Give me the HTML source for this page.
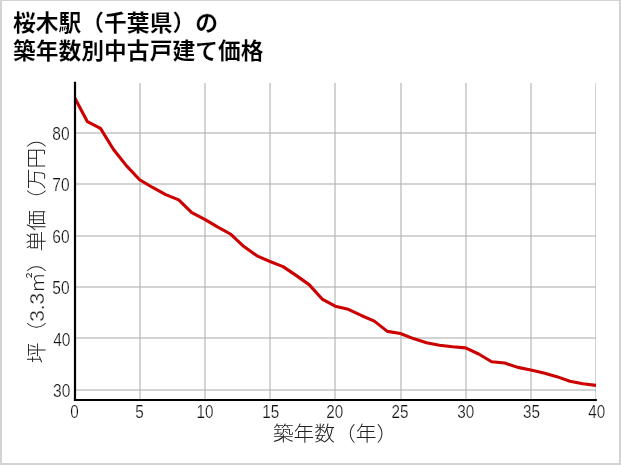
<!DOCTYPE html>
<html lang="ja"><head><meta charset="utf-8"><title>桜木駅（千葉県）の築年数別中古戸建て価格</title>
<style>
html,body{margin:0;padding:0;background:#fff;}
body{width:621px;height:465px;overflow:hidden;position:relative;}
svg{position:absolute;left:0;top:0;display:block;}
text{font-family:"Liberation Sans","Noto Sans CJK JP",sans-serif;}
.title{font-weight:700;font-size:22.8px;fill:#000;stroke:#fff;stroke-width:0.16px;}
.tick{font-weight:400;font-size:16.9px;fill:#111;stroke:#fff;stroke-width:0.22px;}
.num{stroke:#fff;stroke-width:0.3px;}
.lab{font-weight:300;font-size:20.75px;fill:#222;}
</style></head><body>
<svg width="621" height="465" viewBox="0 0 621 465">
<defs><clipPath id="plot"><rect x="75" y="83" width="521" height="317"/></clipPath></defs>
<rect x="0" y="0" width="621" height="465" fill="#d3d3d3"/>
<rect x="2" y="1" width="617" height="462" fill="#ffffff"/>

<g stroke="#b0b0b0" stroke-opacity="0.56" stroke-width="2" fill="none" clip-path="url(#plot)">
<line x1="140" y1="83.0" x2="140" y2="400.0"/>
<line x1="205" y1="83.0" x2="205" y2="400.0"/>
<line x1="270" y1="83.0" x2="270" y2="400.0"/>
<line x1="335" y1="83.0" x2="335" y2="400.0"/>
<line x1="401" y1="83.0" x2="401" y2="400.0"/>
<line x1="466" y1="83.0" x2="466" y2="400.0"/>
<line x1="531" y1="83.0" x2="531" y2="400.0"/>
<line x1="596" y1="83.0" x2="596" y2="400.0"/>
<line x1="75.0" y1="390" x2="596.0" y2="390"/>
<line x1="75.0" y1="338" x2="596.0" y2="338"/>
<line x1="75.0" y1="287" x2="596.0" y2="287"/>
<line x1="75.0" y1="236" x2="596.0" y2="236"/>
<line x1="75.0" y1="184" x2="596.0" y2="184"/>
<line x1="75.0" y1="133" x2="596.0" y2="133"/>
</g>
<polyline points="74.40,97.28 87.44,121.69 100.48,128.37 113.52,149.45 126.56,165.90 139.60,179.77 152.64,187.48 165.68,194.68 178.72,199.82 191.76,212.67 204.80,219.35 217.84,227.06 230.88,234.26 243.92,246.59 256.96,255.85 270.00,261.50 283.04,266.64 296.08,275.38 309.12,284.63 322.16,299.02 335.20,306.22 348.24,309.30 361.28,315.47 374.32,321.12 387.36,331.40 400.40,333.46 413.44,338.60 426.48,342.71 439.52,345.28 452.56,346.82 465.60,347.85 478.64,354.02 491.68,361.73 504.72,363.01 517.76,367.38 530.80,369.95 543.84,373.04 556.88,376.64 569.92,381.26 582.96,383.83 596.00,385.37" fill="none" stroke="#cc0000" stroke-width="3.1" stroke-linejoin="round" stroke-linecap="butt" clip-path="url(#plot)"/>
<line x1="75" y1="81.7" x2="75" y2="400.9" stroke="#000" stroke-width="2.2"/>
<line x1="73.9" y1="399.9" x2="596.9" y2="399.9" stroke="#000" stroke-width="2"/>
<text class="tick" transform="translate(74.50,417.9) scale(0.905,1.08)" text-anchor="middle">0</text>
<text class="tick" transform="translate(139.43,417.9) scale(0.905,1.08)" text-anchor="middle">5</text>
<text class="tick" transform="translate(205.05,417.9) scale(0.905,1.08)" text-anchor="middle">10</text>
<text class="tick" transform="translate(270.68,417.9) scale(0.905,1.08)" text-anchor="middle">15</text>
<text class="tick" transform="translate(334.80,417.9) scale(0.905,1.08)" text-anchor="middle">20</text>
<text class="tick" transform="translate(399.93,417.9) scale(0.905,1.08)" text-anchor="middle">25</text>
<text class="tick" transform="translate(465.85,417.9) scale(0.905,1.08)" text-anchor="middle">30</text>
<text class="tick" transform="translate(531.48,417.9) scale(0.905,1.08)" text-anchor="middle">35</text>
<text class="tick" transform="translate(596.70,417.9) scale(0.905,1.08)" text-anchor="middle">40</text>
<text class="tick" transform="translate(70.40,396.90) scale(0.92,1.07)" text-anchor="end">30</text>
<text class="tick" transform="translate(70.45,345.75) scale(0.92,1.07)" text-anchor="end">40</text>
<text class="tick" transform="translate(69.60,293.90) scale(0.92,1.07)" text-anchor="end">50</text>
<text class="tick" transform="translate(69.60,242.90) scale(0.92,1.07)" text-anchor="end">60</text>
<text class="tick" transform="translate(69.60,190.90) scale(0.92,1.07)" text-anchor="end">70</text>
<text class="tick" transform="translate(69.60,139.90) scale(0.92,1.07)" text-anchor="end">80</text>
<text class="lab" transform="translate(335.1,441) scale(1,0.96)" text-anchor="middle">築年数（年）</text>
<text class="lab" transform="translate(43.5,245.1) rotate(-90) scale(1,0.96)" text-anchor="middle">坪（<tspan class="num">3.3</tspan>㎡）単価（万円）</text>
<text class="title" transform="translate(12.9,30.9) scale(1,0.98)">桜木駅（千葉県）の</text>
<text class="title" transform="translate(12.9,58.5) scale(1,0.98)">築年数別中古戸建て価格</text>
</svg></body></html>
